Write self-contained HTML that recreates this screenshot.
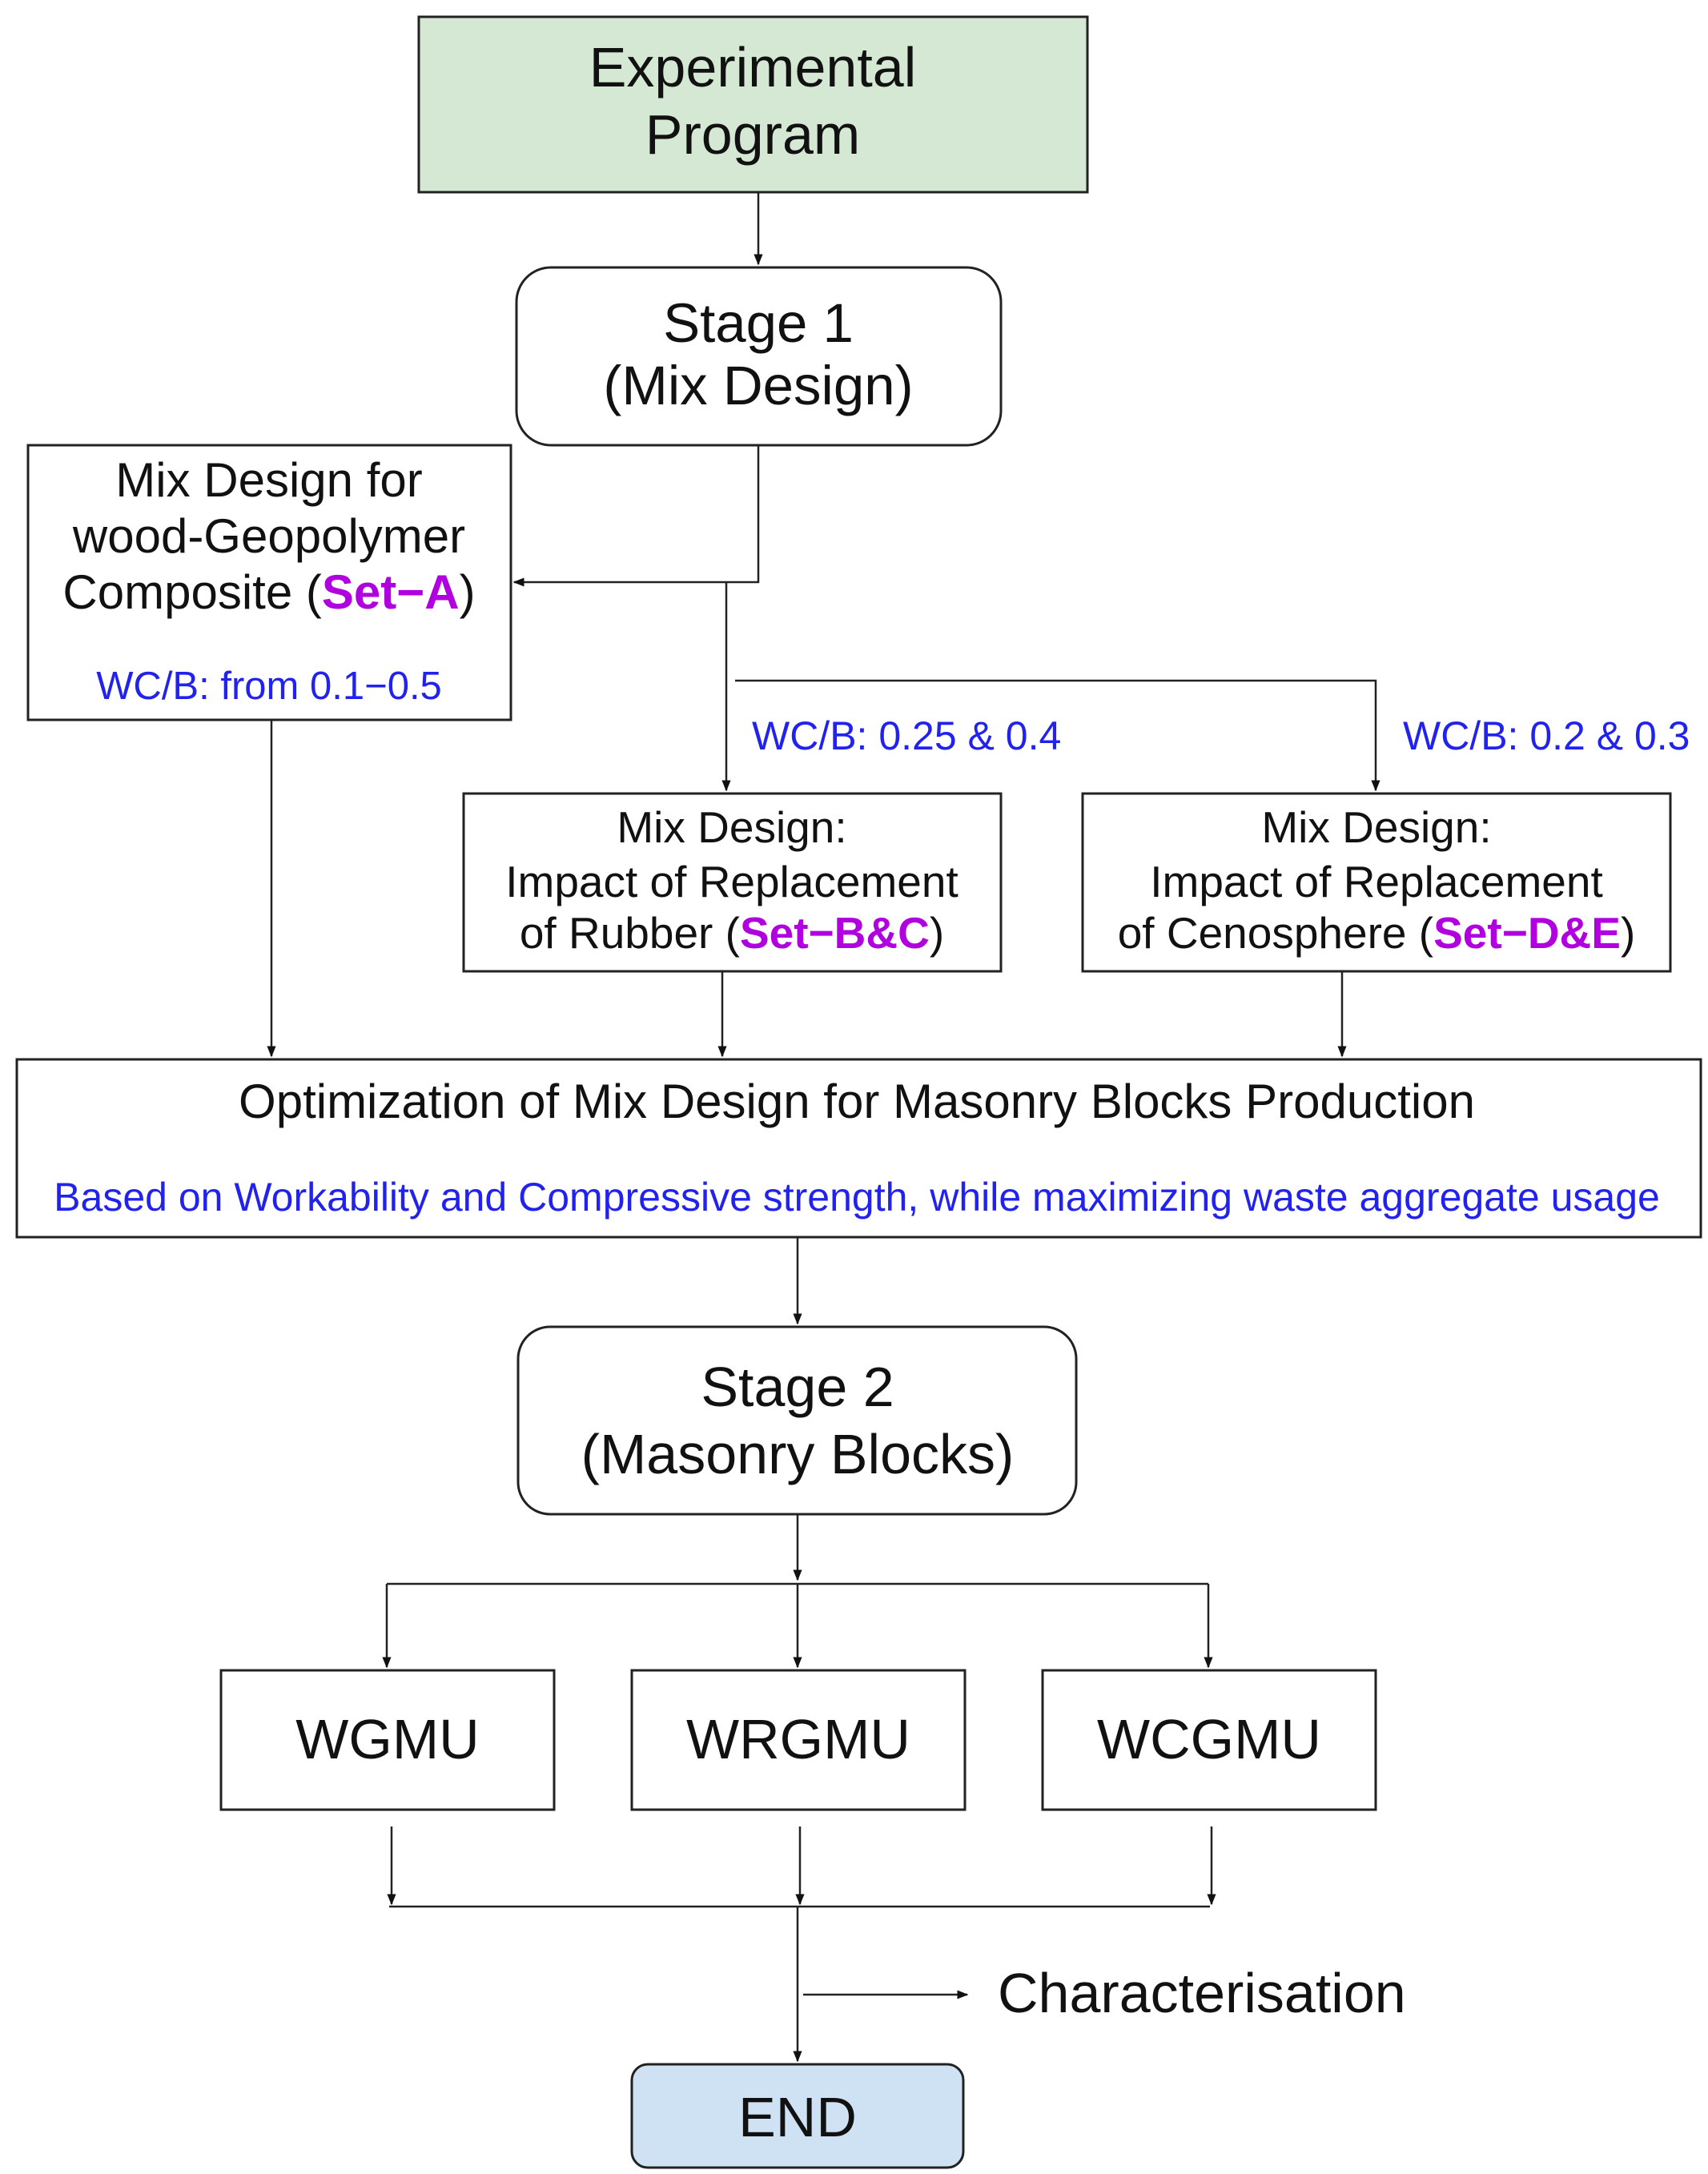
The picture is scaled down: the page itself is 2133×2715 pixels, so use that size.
<!DOCTYPE html>
<html><head><meta charset="utf-8"><style>
html,body{margin:0;padding:0;background:#fff}
svg{display:block}
text{font-family:"Liberation Sans",Arial,sans-serif;fill:#111}
.b{fill:#2222ee}
.m{fill:#b000e0;font-weight:bold}
</style></head><body>
<svg width="2133" height="2715" viewBox="0 0 2133 2715" xmlns="http://www.w3.org/2000/svg">
<defs>
<marker id="s" viewBox="0 0 10 10" markerWidth="14" markerHeight="14" refX="9" refY="5" orient="auto" markerUnits="userSpaceOnUse"><path d="M0,1 L10,5 L0,9 z" fill="#111"/></marker></defs>
<g stroke="#222" stroke-width="3" fill="none">
<rect x="523" y="21" width="835" height="219" fill="#d5e8d4"/>
<rect x="645" y="334" width="605" height="222" rx="43" fill="#fff"/>
<rect x="35" y="556" width="603" height="343" fill="#fff"/>
<rect x="579" y="991" width="671" height="222" fill="#fff"/>
<rect x="1352" y="991" width="734" height="222" fill="#fff"/>
<rect x="21" y="1323" width="2103" height="222" fill="#fff"/>
<rect x="647" y="1657" width="697" height="234" rx="40" fill="#fff"/>
<rect x="276" y="2086" width="416" height="174" fill="#fff"/>
<rect x="789" y="2086" width="416" height="174" fill="#fff"/>
<rect x="1302" y="2086" width="416" height="174" fill="#fff"/>
<rect x="789" y="2578" width="414" height="129" rx="20" fill="#cfe2f3"/>
</g>
<g stroke="#222" stroke-width="2.5" fill="none" marker-end="url(#s)">
<path d="M947 240 V330"/>
<path d="M947 556 V727 H642"/>
<path d="M907 727 V987"/>
<path d="M918 850 H1718 V987"/>
<path d="M339 899 V1319"/>
<path d="M902 1213 V1319"/>
<path d="M1676 1213 V1319"/>
<path d="M996 1545 V1653"/>
<path d="M996 1891 V1973"/>
<path d="M483 1978 V2082"/>
<path d="M996 1978 V2082"/>
<path d="M1509 1978 V2082"/>
<path d="M489 2281 V2378"/>
<path d="M999 2281 V2378"/>
<path d="M1513 2281 V2378"/>
<path d="M996 2381 V2574"/>
<path d="M1003 2491 H1208"/>
</g>
<g stroke="#222" stroke-width="2.5" fill="none">
<path d="M483 1978 H1509"/>
<path d="M486 2381 H1511"/>
</g>
<g text-anchor="middle">
<text x="940" y="108" font-size="70">Experimental</text>
<text x="940" y="192" font-size="70">Program</text>
<text x="947" y="427" font-size="69">Stage 1</text>
<text x="947" y="505" font-size="69">(Mix Design)</text>
<text x="336" y="620" font-size="60">Mix Design for</text>
<text x="336" y="690" font-size="60">wood-Geopolymer</text>
<text x="336" y="760" font-size="60">Composite (<tspan class="m">Set−A</tspan>)</text>
<text x="336" y="873" font-size="49" class="b">WC/B: from 0.1−0.5</text>
<text x="914" y="1052" font-size="55">Mix Design:</text>
<text x="914" y="1120" font-size="55">Impact of Replacement</text>
<text x="914" y="1184" font-size="55">of Rubber (<tspan class="m">Set−B&amp;C</tspan>)</text>
<text x="1719" y="1052" font-size="55">Mix Design:</text>
<text x="1719" y="1120" font-size="55">Impact of Replacement</text>
<text x="1719" y="1184" font-size="55">of Cenosphere (<tspan class="m">Set−D&amp;E</tspan>)</text>
<text x="1070" y="1396" font-size="60">Optimization of Mix Design for Masonry Blocks Production</text>
<text x="1070" y="1512" font-size="50" class="b">Based on Workability and Compressive strength, while maximizing waste aggregate usage</text>
<text x="996" y="1756" font-size="70">Stage 2</text>
<text x="996" y="1840" font-size="70">(Masonry Blocks)</text>
<text x="484" y="2196" font-size="70">WGMU</text>
<text x="997" y="2196" font-size="70">WRGMU</text>
<text x="1510" y="2196" font-size="70">WCGMU</text>
<text x="996" y="2668" font-size="70">END</text>
</g>
<text x="939" y="936" font-size="50" class="b">WC/B: 0.25 &amp; 0.4</text>
<text x="1752" y="936" font-size="50" class="b">WC/B: 0.2 &amp; 0.3</text>
<text x="1246" y="2513" font-size="70">Characterisation</text>
</svg>
</body></html>
